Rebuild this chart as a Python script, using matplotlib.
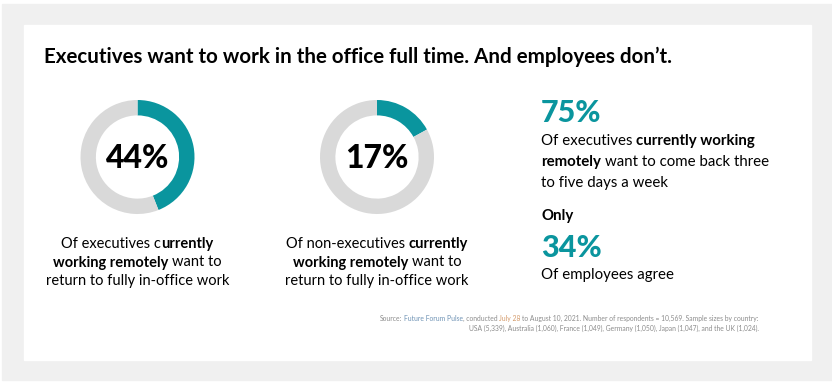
import matplotlib.pyplot as plt
from matplotlib.patches import Rectangle

plt.rcParams['font.family'] = ['Lato', 'DejaVu Sans']

# data
donut_values = [44, 17]
donut_labels = ['44%', '17%']
donut_captions = [
    [[('Of executives c', False), ('urrently', True)],
     [('working remotely', True), (' want to', False)],
     [('return to fully in-office work', False)]],
    [[('Of non-executives ', False), ('currently', True)],
     [('working remotely', True), (' want to', False)],
     [('return to fully in-office work', False)]],
]
stat_values = ['75%', '34%']
title = "Executives want to work in the office full time. And employees don\u2019t."

TEAL = '#0a959e'
RING = '#d9d9d9'
BG = '#f0f0f0'
GREY = '#8c8c8c'

W, H = 832, 382
fig = plt.figure(figsize=(W / 100, H / 100), dpi=100)
fig.patch.set_facecolor('white')
ax = fig.add_axes([0, 0, 1, 1])
ax.set_xlim(0, W)
ax.set_ylim(H, 0)
ax.axis('off')

ax.add_patch(Rectangle((2, 4), W - 2, 376, color=BG, zorder=0))
ax.add_patch(Rectangle((24, 25), 787, 335, color='white', zorder=1))

fig.canvas.draw()
renderer = fig.canvas.get_renderer()


def space_w(size, bold):
    a = ax.text(0, 0, 'a a', fontsize=size, fontweight='bold' if bold else 'normal')
    b = ax.text(0, 0, 'aa', fontsize=size, fontweight='bold' if bold else 'normal')
    w = a.get_window_extent(renderer).width - b.get_window_extent(renderer).width
    a.remove()
    b.remove()
    return w


def draw_runs(x, y, runs, size, align='left', color='black'):
    texts = []
    cur = x
    for run in runs:
        s, bold = run[0], run[1]
        c = run[2] if len(run) > 2 else color
        lead = len(s) - len(s.lstrip(' '))
        trail = len(s) - len(s.rstrip(' '))
        sw = space_w(size, bold) if (lead or trail) else 0
        cur += lead * sw
        t = ax.text(cur, y, s.strip(' '), fontsize=size, color=c, zorder=5,
                    fontweight='bold' if bold else 'normal', va='baseline', ha='left')
        cur += t.get_window_extent(renderer).width + trail * sw
        texts.append(t)
    total = cur - x
    if align != 'left':
        shift = total / 2 if align == 'center' else total
        for t in texts:
            t.set_x(t.get_position()[0] - shift)
    return texts


# title
ax.text(44, 63, title, fontsize=14.8, fontweight='bold', color='black', zorder=5)

# donuts
centers = [(137.5, 157), (377, 157)]
R = 57
for (cx, cy), v, lab, cap in zip(centers, donut_values, donut_labels, donut_captions):
    dax = fig.add_axes([(cx - R) / W, (H - cy - R) / H, 2 * R / W, 2 * R / H])
    dax.pie([v, 100 - v], colors=[TEAL, RING], startangle=90, counterclock=False,
            wedgeprops=dict(width=0.27, linewidth=0))
    dax.set_xlim(-1, 1)
    dax.set_ylim(-1, 1)
    dax.set_aspect('equal')
    dax.text(0, -0.02, lab, fontsize=23, fontweight='black', ha='center', va='center')
    for i, line in enumerate(cap):
        draw_runs(cx, 248 + i * 18.5, line, 10.5, align='center')

# right column
x0 = 541
ax.text(x0, 122, stat_values[0], fontsize=22, fontweight='black', color=TEAL, zorder=5)
draw_runs(x0, 145, [('Of executives ', False), ('currently working', True)], 10.8)
draw_runs(x0, 166, [('remotely', True), (' want to come back three', False)], 10.8)
draw_runs(x0, 187, [('to five days a week', False)], 10.8)
draw_runs(x0, 220, [('Only', True)], 10.8)
ax.text(x0, 257, stat_values[1], fontsize=22, fontweight='black', color=TEAL, zorder=5)
draw_runs(x0, 279, [('Of employees agree', False)], 10.8)

# source
draw_runs(759, 321, [('Source: ', False), ('Future Forum Pulse', False, '#6f93b5'),
                     (', conducted ', False), ('July 28', False, '#d49a6a'),
                     (' to August 10, 2021. Number of respondents = 10,569. Sample sizes by country:', False)],
          4.85, align='right', color=GREY)
draw_runs(759, 331, [('USA (5,339), Australia (1,060), France (1,049), Germany (1,050), Japan (1,047), and the UK (1,024).', False)],
          4.85, align='right', color=GREY)

fig.savefig('out.png', dpi=100, facecolor='white')
